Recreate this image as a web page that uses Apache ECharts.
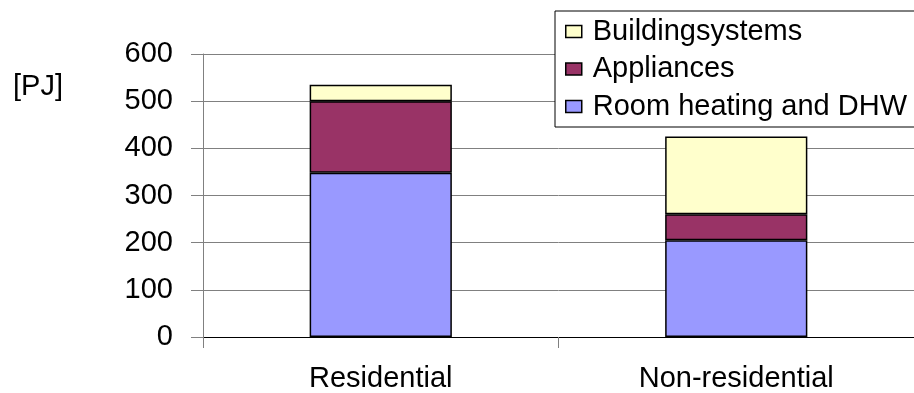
<!DOCTYPE html>
<html>
<head>
<meta charset="utf-8">
<script src="https://cdn.jsdelivr.net/npm/echarts@6/dist/echarts.min.js"></script>
<style>
  html, body { margin: 0; padding: 0; background: #fff; }
  #chart { width: 914px; height: 393px; }
</style>
</head>
<body>
<div id="chart"></div>
<script>
// Energy use in buildings, by sector and end use [PJ]
const categories = ['Residential', 'Non-residential'];
const roomHeating = [348, 205];
const appliances = [152, 55];
const buildingSystems = [35, 165];
const yTicks = [0, 100, 200, 300, 400, 500, 600];

const font = 'Liberation Sans, Arial, sans-serif';
const chart = echarts.init(document.getElementById('chart'));

function stackSeries(name, data, color) {
  return {
    name: name,
    type: 'bar',
    stack: 'total',
    data: data,
    barWidth: '40%',
    itemStyle: { color: color, borderColor: '#000', borderWidth: 1.5 },
    emphasis: { disabled: true }
  };
}

chart.setOption({
  animation: false,
  grid: { left: 203, right: -4, top: 54, bottom: 56, containLabel: false },
  graphic: [{
    type: 'text', left: 13, top: 72,
    style: { text: '[PJ]', font: '29px ' + font, fill: '#000' }
  }],
  legend: {
    data: ['Buildingsystems', 'Appliances', 'Room heating and DHW'],
    orient: 'vertical',
    left: 555, top: 11,
    padding: [6, 10, 6, 10],
    itemGap: 8.5,
    itemWidth: 16, itemHeight: 12,
    borderColor: '#000', borderWidth: 1,
    backgroundColor: '#fff',
    icon: 'rect',
    itemStyle: { borderColor: '#000', borderWidth: 1.5 },
    textStyle: { fontFamily: font, fontSize: 29, lineHeight: 29, color: '#000', padding: [0, 0, 0, 6] }
  },
  xAxis: {
    type: 'category',
    data: categories,
    axisLine: { lineStyle: { color: '#000', width: 1 } },
    axisTick: { show: true, length: 11, lineStyle: { color: '#808080' } },
    axisLabel: { fontFamily: font, fontSize: 29, color: '#000', margin: 27 }
  },
  yAxis: {
    type: 'value',
    min: yTicks[0], max: yTicks[yTicks.length - 1], interval: 100,
    axisLine: { show: true, lineStyle: { color: '#808080' } },
    axisTick: { show: true, length: 12, lineStyle: { color: '#808080' } },
    splitLine: { lineStyle: { color: '#808080', width: 1 } },
    axisLabel: { fontFamily: font, fontSize: 29, color: '#000', margin: 30 }
  },
  series: [
    stackSeries('Room heating and DHW', roomHeating, '#9999FF'),
    stackSeries('Appliances', appliances, '#993366'),
    stackSeries('Buildingsystems', buildingSystems, '#FFFFCC')
  ]
});
</script>
</body>
</html>
